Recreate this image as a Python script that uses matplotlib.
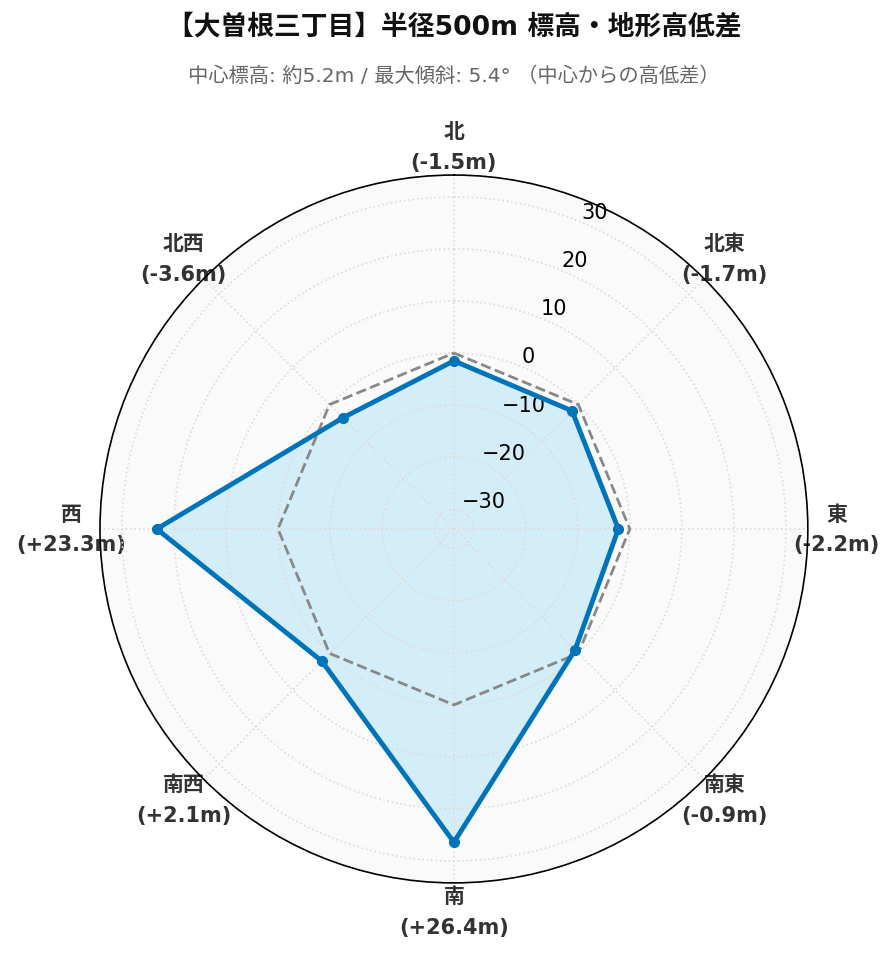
import matplotlib
matplotlib.use("Agg")
import matplotlib.pyplot as plt
import numpy as np

plt.rcParams["font.family"] = ["DejaVu Sans", "Noto Sans CJK JP"]

# Data
directions = ["北", "北東", "東", "南東", "南", "南西", "西", "北西"]
diffs = [-1.5, -1.7, -2.2, -0.9, 26.4, 2.1, 23.3, -3.6]
r_ticks = [-30, -20, -10, 0, 10, 20, 30]

title = "【大曽根三丁目】半径500m 標高・地形高低差"
subtitle = "中心標高: 約5.2m / 最大傾斜: 5.4° （中心からの高低差）"

n = len(directions)
angles = np.linspace(0, 2 * np.pi, n, endpoint=False)
ang_closed = np.append(angles, angles[0])
vals_closed = np.append(diffs, diffs[0])
zero_closed = np.zeros(n + 1)

fig = plt.figure(figsize=(8.96, 9.62), dpi=100)
ax = fig.add_axes([0.1116, 0.0811, 0.790, 0.736], projection="polar")
ax.set_theta_zero_location("N")
ax.set_theta_direction(-1)
ax.set_facecolor("#fafafa")

# data polygon and zero reference
ax.fill(ang_closed, vals_closed, color="#d3edf9", zorder=1)
ax.plot(ang_closed, zero_closed, "--", color="#888888", lw=2, zorder=3)
ax.plot(ang_closed, vals_closed, "-", color="#0074bb", lw=3.5, zorder=4)
ax.plot(angles, diffs, "o", color="#0074bb", ms=7, zorder=5)

ax.set_ylim(-33.8, 34.2)
ax.set_yticks(r_ticks)
ax.set_yticklabels([f"{t}".replace("-", "\u2212") for t in r_ticks], fontsize=15)
ax.set_rlabel_position(22.5)

labels = [f"{d}\n({v:+.1f}m)" for d, v in zip(directions, diffs)]
ax.set_xticks(angles)
ax.set_xticklabels(labels, fontsize=15, fontweight="bold", color="#333333",
                   linespacing=1.65)
ax.tick_params(axis="x", pad=10)

ax.grid(True, color="#e2dada", linestyle=":", lw=1.2)
ax.spines["polar"].set_color("black")
ax.spines["polar"].set_linewidth(1.2)

fig.text(0.507, 0.971, title, ha="center", va="center",
         fontsize=19.3, fontweight="bold", color="#111111")
fig.text(0.507, 0.921, subtitle, ha="center", va="center",
         fontsize=14.6, color="#666666")

fig.savefig("out.png", dpi=100)
